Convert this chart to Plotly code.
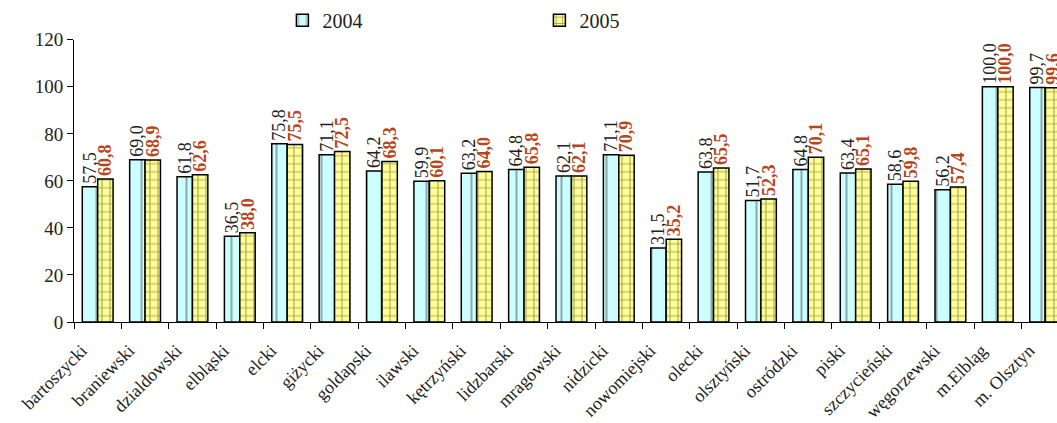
import plotly.graph_objects as go

categories = ["bartoszycki", "braniewski", "dzialdowski", "elbląski", "elcki", "giżycki",
              "goldapski", "ilawski", "kętrzyński", "lidzbarski", "mragowski", "nidzicki",
              "nowomiejski", "olecki", "olsztyński", "ostródzki", "piski", "szczycieński",
              "węgorzewski", "m.Elbląg", "m. Olsztyn"]
values_2004 = [57.5, 69.0, 61.8, 36.5, 75.8, 71.1, 64.2, 59.9, 63.2, 64.8, 62.1, 71.1,
               31.5, 63.8, 51.7, 64.8, 63.4, 58.6, 56.2, 100.0, 99.7]
values_2005 = [60.8, 68.9, 62.6, 38.0, 75.5, 72.5, 68.3, 60.1, 64.0, 65.8, 62.1, 70.9,
               35.2, 65.5, 52.3, 70.1, 65.1, 59.8, 57.4, 100.0, 99.6]
y_ticks = [0, 20, 40, 60, 80, 100, 120]

SERIF = "Liberation Serif, Times New Roman, serif"

def fmt(v):
    return f"{v:.1f}".replace(".", ",")

fig = go.Figure()
fig.add_trace(go.Bar(
    name="2004", x=categories, y=values_2004,
    text=[fmt(v) for v in values_2004], textposition="outside", textangle=-90,
    textfont=dict(family=SERIF, size=18, color="#222222"),
    constraintext="none", cliponaxis=False,
    marker=dict(color="#CCFFFF", line=dict(color="black", width=1.5),
                pattern=dict(shape="|", fgcolor="#555555", bgcolor="#CCFFFF",
                             size=15, solidity=0.14)),
))
fig.add_trace(go.Bar(
    name="2005", x=categories, y=values_2005,
    text=[f"<b>{fmt(v)}</b>" for v in values_2005], textposition="outside", textangle=-90,
    textfont=dict(family=SERIF, size=18, color="#B8461C"),
    constraintext="none", cliponaxis=False,
    marker=dict(color="#FFFF99", line=dict(color="black", width=1.5),
                pattern=dict(shape="+", fgcolor="#5A5A10", bgcolor="#FFFF99",
                             size=8, solidity=0.28)),
))

fig.update_layout(
    width=1057, height=423,
    margin=dict(l=74, r=0, t=36, b=101),
    paper_bgcolor="white", plot_bgcolor="white",
    barmode="group", bargap=0.35, bargroupgap=0,
    font=dict(family=SERIF, size=18, color="#222222"),
    showlegend=True,
    legend=dict(orientation="h", x=0.212, xanchor="left",
                yref="container", y=0.952, yanchor="middle",
                font=dict(family=SERIF, size=20, color="#222222"),
                entrywidth=212, entrywidthmode="pixels", bgcolor="rgba(0,0,0,0)"),
    xaxis=dict(range=[-0.5, 20.25], tickson="boundaries", ticks="outside", ticklen=6,
               tickcolor="black", showline=True, linecolor="black", linewidth=1,
               tickangle=-45, tickfont=dict(family=SERIF, size=18, color="#222222"),
               ticklabelshift=-16, ticklabelstandoff=10,
               showgrid=False, automargin=False),
    yaxis=dict(range=[0, 120], tickvals=y_ticks, ticks="outside", ticklen=6,
               tickcolor="black", showline=True, linecolor="black", linewidth=1,
               showgrid=False, zeroline=False, automargin=False,
               tickfont=dict(family=SERIF, size=19, color="#222222")),
)

fig.write_html("out.html", config={"displayModeBar": False},
               post_script="document.body.style.margin='0';document.body.style.padding='0';")
